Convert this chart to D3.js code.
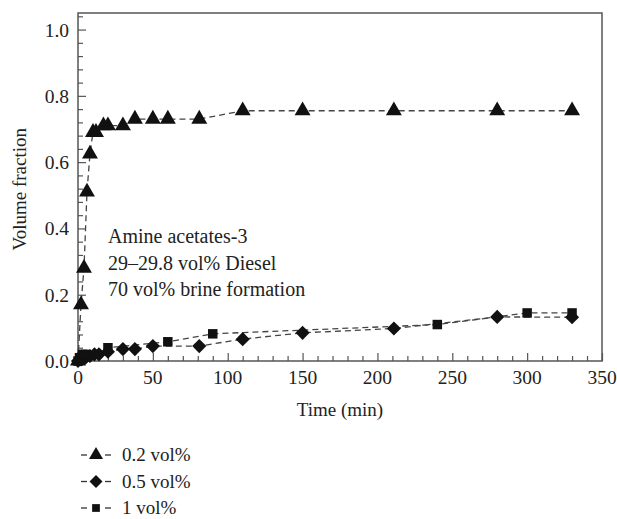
<!DOCTYPE html>
<html>
<head>
<meta charset="utf-8">
<script src="https://cdn.jsdelivr.net/npm/d3@7"></script>
<style>
  body { margin: 0; background: #fff; }
  text { font-family: "Liberation Serif", "DejaVu Serif", serif; fill: #222; }
</style>
</head>
<body>
<svg id="chart" width="617" height="519"></svg>
<script>
// series values: [time (min), volume fraction]
var series02 = [[0,0],[2,0.17],[4,0.28],[6,0.51],[8,0.625],[10,0.69],[12,0.69],[17,0.71],[20,0.71],
  [30,0.71],[38,0.73],[50,0.73],[60,0.73],[81,0.73],[110,0.755],[150,0.755],[211,0.755],[280,0.755],[330,0.755]];
var series05 = [[0,0],[2,0.005],[5,0.01],[8,0.015],[11,0.02],[14,0.02],[20,0.028],[30,0.036],[38,0.036],
  [50,0.045],[81,0.045],[110,0.066],[150,0.085],[211,0.098],[280,0.133],[330,0.132]];
var series1 = [[0,0],[1,0.01],[3,0.02],[5,0.02],[20,0.04],[60,0.058],[90,0.082],[240,0.11],[300,0.145],[330,0.145]];

var xTicks = [0, 50, 100, 150, 200, 250, 300, 350];
var yTicks = [0, 0.2, 0.4, 0.6, 0.8, 1.0];
var legendLabels = ['0.2 vol%', '0.5 vol%', '1 vol%'];
var noteLines = ['Amine acetates-3', '29\u201329.8 vol% Diesel', '70 vol% brine formation'];

var svg = d3.select('#chart');
var mLeft = 78, mRight = 602, mTop = 13, mBottom = 361;

var x = d3.scaleLinear().domain([0, 350]).range([mLeft, mRight]);
var y = d3.scaleLinear().domain([0, 1.05]).range([mBottom, mTop]);

var axisColor = '#555';

// frame
svg.append('rect')
  .attr('x', mLeft).attr('y', mTop)
  .attr('width', mRight - mLeft).attr('height', mBottom - mTop)
  .attr('fill', 'none').attr('stroke', axisColor).attr('stroke-width', 1.5);

// x axis, ticks inside
var gx = svg.append('g').attr('transform', 'translate(0,' + mBottom + ')');
gx.call(d3.axisBottom(x).tickValues(d3.range(0, 351, 10)).tickSize(-6).tickFormat(''));
gx.call(function(g) {
  g.select('.domain').remove();
  g.selectAll('.tick line').attr('stroke', axisColor).attr('stroke-width', 1.2)
    .attr('y2', function(d) { return d % 50 === 0 ? -8 : -5; });
});
xTicks.forEach(function(t) {
  svg.append('text').attr('x', x(t)).attr('y', mBottom + 23)
    .attr('text-anchor', 'middle').attr('font-size', 19.5).text(t);
});

// y axis, ticks inside
var gy = svg.append('g').attr('transform', 'translate(' + mLeft + ',0)');
gy.call(d3.axisLeft(y).tickValues(d3.range(0, 27).map(function(i) { return i * 0.04; })).tickSize(-5).tickFormat(''));
gy.call(function(g) {
  g.select('.domain').remove();
  g.selectAll('.tick line').attr('stroke', axisColor).attr('stroke-width', 1.2)
    .attr('x2', function(d) { return Math.abs(d / 0.2 - Math.round(d / 0.2)) < 1e-6 ? 8 : 5; });
});
yTicks.forEach(function(t) {
  svg.append('text').attr('x', mLeft - 9).attr('y', y(t) + 7)
    .attr('text-anchor', 'end').attr('font-size', 19.5).text(t.toFixed(1));
});

// axis titles
svg.append('text').attr('x', (mLeft + mRight) / 2).attr('y', 416)
  .attr('text-anchor', 'middle').attr('font-size', 19).text('Time (min)');
svg.append('text').attr('transform', 'translate(26,' + (y(0.5) - 6) + ') rotate(-90)')
  .attr('text-anchor', 'middle').attr('font-size', 19).text('Volume fraction');

// note
noteLines.forEach(function(s, i) {
  svg.append('text').attr('x', 108).attr('y', 243 + i * 26.5)
    .attr('font-size', 20).text(s);
});

// lines
var line = d3.line().x(function(d) { return x(d[0]); }).y(function(d) { return y(d[1]); });
var defs = [
  { data: series02, symbol: d3.symbolTriangle, size: 110, rot: 0 },
  { data: series05, symbol: d3.symbolSquare, size: 100, rot: 45 },
  { data: series1, symbol: d3.symbolSquare, size: 90, rot: 0 }
];

defs.forEach(function(s) {
  svg.append('path').attr('d', line(s.data))
    .attr('fill', 'none').attr('stroke', '#444').attr('stroke-width', 1.3)
    .attr('stroke-dasharray', '6,4');
});

defs.forEach(function(s) {
  svg.append('g').selectAll('path').data(s.data).enter().append('path')
    .attr('d', d3.symbol().type(s.symbol).size(s.size))
    .attr('transform', function(d) {
      return 'translate(' + x(d[0]) + ',' + y(d[1]) + ') rotate(' + s.rot + ')';
    })
    .attr('fill', '#111');
});

// legend
legendLabels.forEach(function(lab, i) {
  var cy = 455 + i * 26.5;
  var g = svg.append('g');
  g.append('line').attr('x1', 81).attr('x2', 87).attr('y1', cy).attr('y2', cy)
    .attr('stroke', '#333').attr('stroke-width', 1.3);
  g.append('line').attr('x1', 105).attr('x2', 111).attr('y1', cy).attr('y2', cy)
    .attr('stroke', '#333').attr('stroke-width', 1.3);
  g.append('path').attr('d', d3.symbol().type(defs[i].symbol).size(i === 2 ? 60 : 85))
    .attr('transform', 'translate(96,' + cy + ') rotate(' + defs[i].rot + ')').attr('fill', '#111');
  g.append('text').attr('x', 122).attr('y', cy + 6).attr('font-size', 19).text(lab);
});
</script>
</body>
</html>
